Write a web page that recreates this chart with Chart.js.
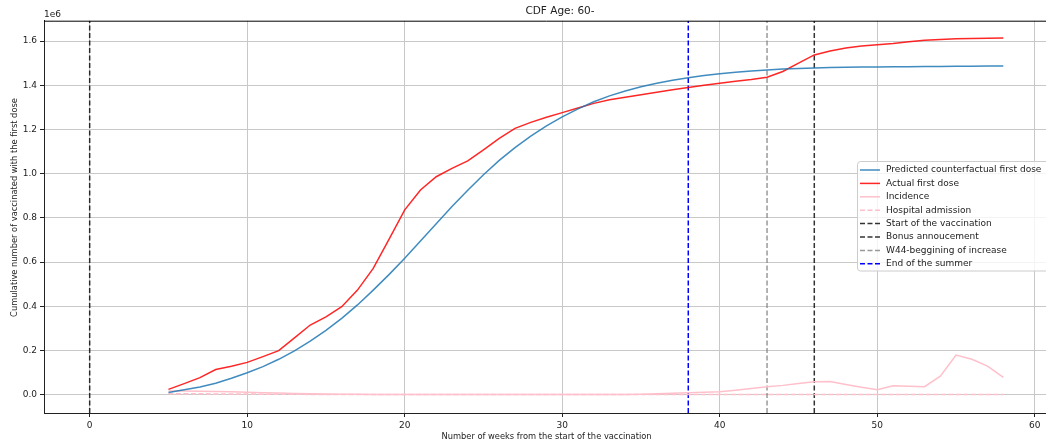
<!DOCTYPE html>
<html>
<head>
<meta charset="utf-8">
<script src="https://cdn.jsdelivr.net/npm/chart.js@4.4.1/dist/chart.umd.min.js"></script>
<style>
  html, body { margin: 0; padding: 0; overflow: hidden; background: #fff; }
  #wrap { width: 1049px; height: 444px; }
</style>
</head>
<body>
<div id="wrap"><canvas id="cdf" width="1049" height="444"></canvas></div>
<script>
// weeks since start of vaccination
var weeks = [5, 6, 7, 8, 9, 10, 11, 12, 13, 14, 15, 16, 17, 18, 19, 20, 21, 22, 23, 24,
  25, 26, 27, 28, 29, 30, 31, 32, 33, 34, 35, 36, 37, 38, 39, 40, 41, 42, 43, 44,
  45, 46, 47, 48, 49, 50, 51, 52, 53, 54, 55, 56, 57, 58];

// values in units of 1e6
var predicted = [0.010, 0.022, 0.035, 0.052, 0.074, 0.099, 0.127, 0.160, 0.198, 0.242,
  0.291, 0.345, 0.406, 0.473, 0.543, 0.617, 0.695, 0.773, 0.851, 0.925,
  0.995, 1.060, 1.118, 1.170, 1.216, 1.257, 1.293, 1.325, 1.352, 1.374,
  1.393, 1.409, 1.423, 1.434, 1.444, 1.452, 1.459, 1.464, 1.469, 1.473,
  1.476, 1.478, 1.480, 1.481, 1.482, 1.483, 1.484, 1.484, 1.485, 1.485,
  1.486, 1.486, 1.487, 1.487];

var actual = [0.024, 0.050, 0.077, 0.114, 0.129, 0.146, 0.172, 0.199, 0.257, 0.315,
  0.352, 0.398, 0.473, 0.571, 0.703, 0.836, 0.926, 0.986, 1.024, 1.058,
  1.108, 1.160, 1.205, 1.232, 1.255, 1.276, 1.297, 1.318, 1.334, 1.346,
  1.357, 1.368, 1.380, 1.390, 1.400, 1.409, 1.418, 1.426, 1.436, 1.462,
  1.500, 1.537, 1.555, 1.568, 1.577, 1.583, 1.589, 1.597, 1.603, 1.607,
  1.610, 1.612, 1.613, 1.614];

var incidence = [0.016, 0.016, 0.015, 0.014, 0.013, 0.011, 0.009, 0.007, 0.005, 0.004,
  0.003, 0.002, 0.002, 0.001, 0.001, 0.001, 0.001, 0.001, 0.001, 0.001,
  0.001, 0.001, 0.001, 0.001, 0.001, 0.001, 0.001, 0.001, 0.001, 0.001,
  0.002, 0.004, 0.006, 0.009, 0.011, 0.013, 0.020, 0.028, 0.036, 0.042,
  0.050, 0.058, 0.060, 0.046, 0.033, 0.022, 0.040, 0.038, 0.036, 0.084,
  0.179, 0.160, 0.129, 0.078];

var hospital = [0.004, 0.004, 0.004, 0.003, 0.003, 0.003, 0.002, 0.002, 0.002, 0.001,
  0.001, 0.001, 0.001, 0.001, 0.001, 0.001, 0.001, 0.001, 0.001, 0.001,
  0.001, 0.001, 0.001, 0.001, 0.001, 0.001, 0.001, 0.001, 0.001, 0.001,
  0.001, 0.001, 0.001, 0.001, 0.001, 0.001, 0.001, 0.001, 0.001, 0.001,
  0.001, 0.001, 0.001, 0.001, 0.001, 0.001, 0.001, 0.001, 0.001, 0.001,
  0.001, 0.001, 0.001, 0.001];

var startWeek = 0;
var bonusWeek = 46;
var w44Week = 43;
var summerWeek = 38;

var xTicks = [0, 10, 20, 30, 40, 50, 60];
var yTicks = [0, 0.2, 0.4, 0.6, 0.8, 1.0, 1.2, 1.4, 1.6];

var yMin = -0.083, yMax = 1.692;

function pts(vals) {
  return weeks.map(function (w, i) { return { x: w, y: vals[i] }; });
}
function vline(w) {
  return [{ x: w, y: yMin }, { x: w, y: yMax }];
}

Chart.defaults.font.family = "'DejaVu Sans', sans-serif";
Chart.defaults.font.size = 9;
Chart.defaults.color = '#222';

var extras = {
  id: 'extras',
  afterDraw: function (chart) {
    var ctx = chart.ctx;
    var area = chart.chartArea;
    ctx.save();
    // top spine
    ctx.strokeStyle = '#000';
    ctx.lineWidth = 1;
    ctx.beginPath();
    ctx.moveTo(area.left, area.top + 0.5);
    ctx.lineTo(area.right, area.top + 0.5);
    ctx.stroke();

    // title + offset text
    ctx.fillStyle = '#222';
    ctx.textBaseline = 'middle';
    ctx.textAlign = 'center';
    ctx.font = "10.5px 'DejaVu Sans'";
    ctx.fillText('CDF Age: 60-', 560, 11);
    ctx.textAlign = 'left';
    ctx.font = "9px 'DejaVu Sans'";
    ctx.fillText('1e6', 44, 15);

    // y label
    ctx.save();
    ctx.translate(15, 207.5);
    ctx.rotate(-Math.PI / 2);
    ctx.textAlign = 'center';
    ctx.font = "8.3px 'DejaVu Sans'";
    ctx.fillText('Cumulative number of vaccinated with the first dose', 0, 0);
    ctx.restore();

    // legend
    ctx.font = "9px 'DejaVu Sans'";
    ctx.textAlign = 'left';
    var bx = 857, by = 161.5, bw = 200, bh = 109.5;
    ctx.fillStyle = 'rgba(255,255,255,0.8)';
    ctx.strokeStyle = '#cccccc';
    ctx.beginPath();
    ctx.roundRect(bx + 0.5, by, bw, bh, 3);
    ctx.fill();
    ctx.stroke();
    chart.data.datasets.forEach(function (ds, i) {
      var y = 170 + i * 13.4;
      ctx.strokeStyle = ds.borderColor;
      ctx.lineWidth = ds.borderWidth;
      ctx.setLineDash(ds.borderDash || []);
      ctx.beginPath();
      ctx.moveTo(860, y);
      ctx.lineTo(880, y);
      ctx.stroke();
      ctx.setLineDash([]);
      ctx.fillStyle = '#222';
      ctx.fillText(ds.label, 886, y);
    });
    ctx.restore();
  }
};

var dash = [5, 2.5];

new Chart(document.getElementById('cdf'), {
  type: 'line',
  data: {
    datasets: [
      { label: 'Predicted counterfactual first dose', data: pts(predicted),
        borderColor: 'rgba(31,119,180,0.85)', borderWidth: 1.5 },
      { label: 'Actual first dose', data: pts(actual),
        borderColor: 'rgba(255,0,0,0.85)', borderWidth: 1.5 },
      { label: 'Incidence', data: pts(incidence),
        borderColor: '#ffc0cb', borderWidth: 1.5 },
      { label: 'Hospital admission', data: pts(hospital),
        borderColor: '#ffc0cb', borderWidth: 1.5, borderDash: dash },
      { label: 'Start of the vaccination', data: vline(startWeek),
        borderColor: 'rgba(0,0,0,0.8)', borderWidth: 1.5, borderDash: dash },
      { label: 'Bonus annoucement', data: vline(bonusWeek),
        borderColor: 'rgba(0,0,0,0.8)', borderWidth: 1.5, borderDash: dash },
      { label: 'W44-beggining of increase', data: vline(w44Week),
        borderColor: 'rgba(128,128,128,0.8)', borderWidth: 1.5, borderDash: dash },
      { label: 'End of the summer', data: vline(summerWeek),
        borderColor: '#0000ff', borderWidth: 1.5, borderDash: dash }
    ]
  },
  options: {
    responsive: false,
    animation: false,
    events: [],
    layout: { padding: { top: 20.7, right: 0, left: 0, bottom: 0 } },
    elements: { point: { radius: 0 }, line: { tension: 0 } },
    plugins: {
      legend: { display: false },
      title: { display: false },
      tooltip: { enabled: false }
    },
    scales: {
      x: {
        type: 'linear',
        min: -2.9,
        max: 60.9,
        afterBuildTicks: function (s) { s.ticks = xTicks.map(function (v) { return { value: v }; }); },
        afterFit: function (s) { s.height = 31; },
        grid: { color: '#c8c8c8', lineWidth: 1, tickColor: '#222', tickLength: 4 },
        border: { color: '#222', width: 1 },
        ticks: { padding: 3, maxRotation: 0, autoSkip: false },
        title: { display: true, text: 'Number of weeks from the start of the vaccination',
          font: { size: 8.3 }, padding: { top: 0, bottom: 2 } }
      },
      y: {
        type: 'linear',
        min: yMin,
        max: yMax,
        afterBuildTicks: function (s) { s.ticks = yTicks.map(function (v) { return { value: v }; }); },
        afterFit: function (s) { s.width = 44; },
        grid: { color: '#c8c8c8', lineWidth: 1, tickColor: '#222', tickLength: 4 },
        border: { color: '#222', width: 1 },
        ticks: { padding: 3, autoSkip: false, callback: function (v) { return v.toFixed(1); } }
      }
    }
  },
  plugins: [extras]
});
</script>
</body>
</html>
